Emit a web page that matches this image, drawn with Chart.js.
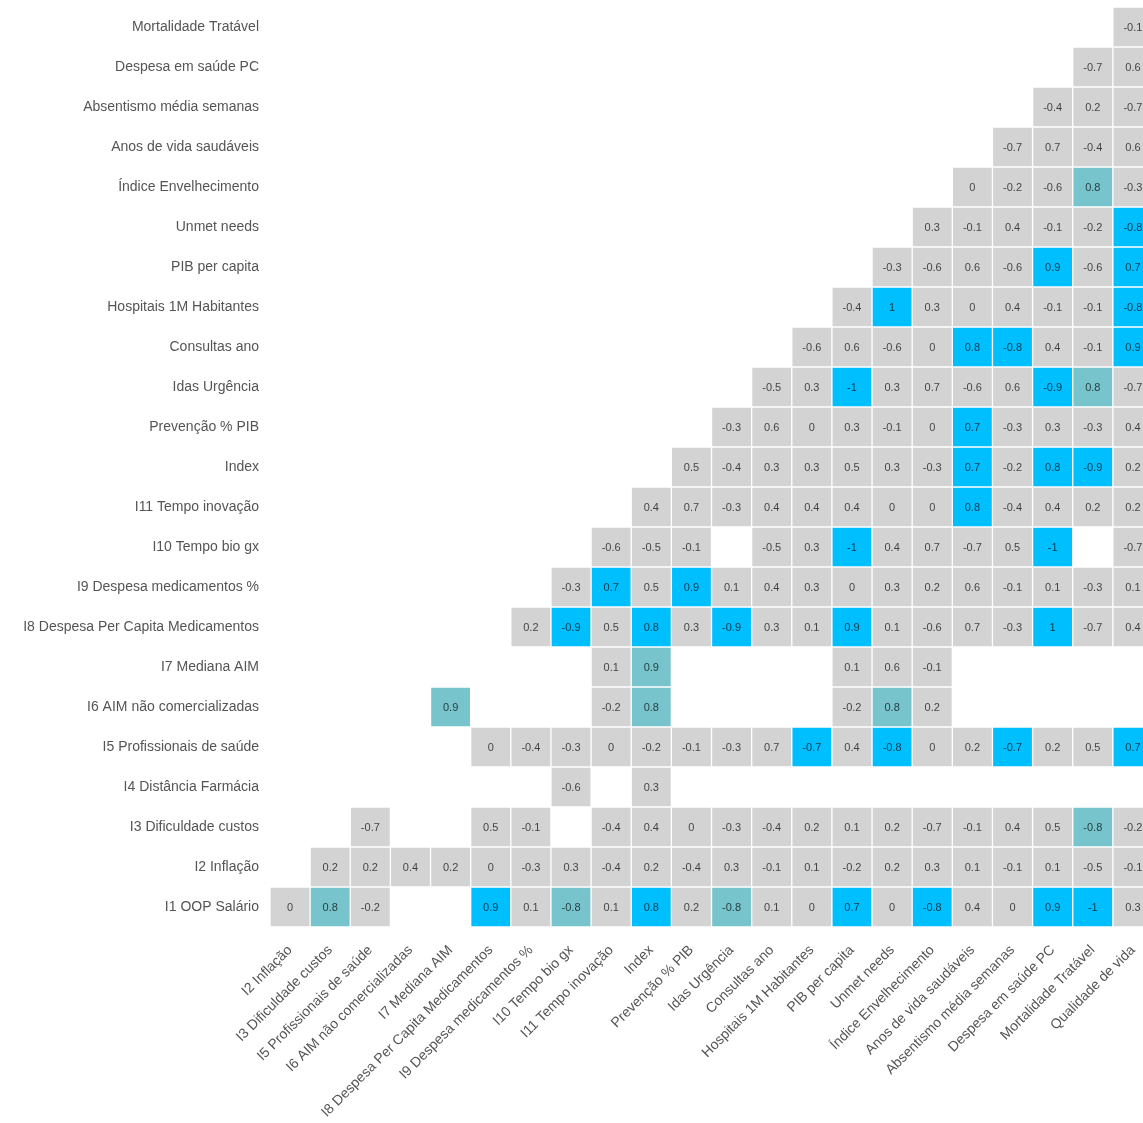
<!DOCTYPE html>
<html>
<head>
<meta charset="utf-8">
<script src="https://cdn.jsdelivr.net/npm/chart.js@4.4.1/dist/chart.umd.min.js"></script>
<style>
  html, body { margin: 0; padding: 0; background: #fff; overflow: hidden; }
  #wrap { width: 1153px; height: 1123px; }
</style>
</head>
<body>
<div id="wrap"><canvas id="corr"></canvas></div>
<script>
const _ = null;

// columns (left to right)
const colLabels = [
  'I2 Inflação', 'I3 Dificuldade custos', 'I5 Profissionais de saúde',
  'I6 AIM não comercializadas', 'I7 Mediana AIM', 'I8 Despesa Per Capita Medicamentos',
  'I9 Despesa medicamentos %', 'I10 Tempo bio gx', 'I11 Tempo inovação', 'Index',
  'Prevenção % PIB', 'Idas Urgência', 'Consultas ano', 'Hospitais 1M Habitantes',
  'PIB per capita', 'Unmet needs', 'Índice Envelhecimento', 'Anos de vida saudáveis',
  'Absentismo média semanas', 'Despesa em saúde PC', 'Mortalidade Tratável', 'Qualidade de vida'
];

// rows (top to bottom)
const rowLabels = [
  'Mortalidade Tratável', 'Despesa em saúde PC', 'Absentismo média semanas',
  'Anos de vida saudáveis', 'Índice Envelhecimento', 'Unmet needs', 'PIB per capita',
  'Hospitais 1M Habitantes', 'Consultas ano', 'Idas Urgência', 'Prevenção % PIB', 'Index',
  'I11 Tempo inovação', 'I10 Tempo bio gx', 'I9 Despesa medicamentos %',
  'I8 Despesa Per Capita Medicamentos', 'I7 Mediana AIM', 'I6 AIM não comercializadas',
  'I5 Profissionais de saúde', 'I4 Distância Farmácia', 'I3 Dificuldade custos',
  'I2 Inflação', 'I1 OOP Salário'
];

// correlation values, one row per rowLabels entry, one column per colLabels entry
const values = [
  [_,_,_,_,_,_,_,_,_,_,_,_,_,_,_,_,_,_,_,_,_,-0.1],
  [_,_,_,_,_,_,_,_,_,_,_,_,_,_,_,_,_,_,_,_,-0.7,0.6],
  [_,_,_,_,_,_,_,_,_,_,_,_,_,_,_,_,_,_,_,-0.4,0.2,-0.7],
  [_,_,_,_,_,_,_,_,_,_,_,_,_,_,_,_,_,_,-0.7,0.7,-0.4,0.6],
  [_,_,_,_,_,_,_,_,_,_,_,_,_,_,_,_,_,0,-0.2,-0.6,0.8,-0.3],
  [_,_,_,_,_,_,_,_,_,_,_,_,_,_,_,_,0.3,-0.1,0.4,-0.1,-0.2,-0.8],
  [_,_,_,_,_,_,_,_,_,_,_,_,_,_,_,-0.3,-0.6,0.6,-0.6,0.9,-0.6,0.7],
  [_,_,_,_,_,_,_,_,_,_,_,_,_,_,-0.4,1,0.3,0,0.4,-0.1,-0.1,-0.8],
  [_,_,_,_,_,_,_,_,_,_,_,_,_,-0.6,0.6,-0.6,0,0.8,-0.8,0.4,-0.1,0.9],
  [_,_,_,_,_,_,_,_,_,_,_,_,-0.5,0.3,-1,0.3,0.7,-0.6,0.6,-0.9,0.8,-0.7],
  [_,_,_,_,_,_,_,_,_,_,_,-0.3,0.6,0,0.3,-0.1,0,0.7,-0.3,0.3,-0.3,0.4],
  [_,_,_,_,_,_,_,_,_,_,0.5,-0.4,0.3,0.3,0.5,0.3,-0.3,0.7,-0.2,0.8,-0.9,0.2],
  [_,_,_,_,_,_,_,_,_,0.4,0.7,-0.3,0.4,0.4,0.4,0,0,0.8,-0.4,0.4,0.2,0.2],
  [_,_,_,_,_,_,_,_,-0.6,-0.5,-0.1,_,-0.5,0.3,-1,0.4,0.7,-0.7,0.5,-1,_,-0.7],
  [_,_,_,_,_,_,_,-0.3,0.7,0.5,0.9,0.1,0.4,0.3,0,0.3,0.2,0.6,-0.1,0.1,-0.3,0.1],
  [_,_,_,_,_,_,0.2,-0.9,0.5,0.8,0.3,-0.9,0.3,0.1,0.9,0.1,-0.6,0.7,-0.3,1,-0.7,0.4],
  [_,_,_,_,_,_,_,_,0.1,0.9,_,_,_,_,0.1,0.6,-0.1,_,_,_,_,_],
  [_,_,_,_,0.9,_,_,_,-0.2,0.8,_,_,_,_,-0.2,0.8,0.2,_,_,_,_,_],
  [_,_,_,_,_,0,-0.4,-0.3,0,-0.2,-0.1,-0.3,0.7,-0.7,0.4,-0.8,0,0.2,-0.7,0.2,0.5,0.7],
  [_,_,_,_,_,_,_,-0.6,_,0.3,_,_,_,_,_,_,_,_,_,_,_,_],
  [_,_,-0.7,_,_,0.5,-0.1,_,-0.4,0.4,0,-0.3,-0.4,0.2,0.1,0.2,-0.7,-0.1,0.4,0.5,-0.8,-0.2],
  [_,0.2,0.2,0.4,0.2,0,-0.3,0.3,-0.4,0.2,-0.4,0.3,-0.1,0.1,-0.2,0.2,0.3,0.1,-0.1,0.1,-0.5,-0.1],
  [0,0.8,-0.2,_,_,0.9,0.1,-0.8,0.1,0.8,0.2,-0.8,0.1,0,0.7,0,-0.8,0.4,0,0.9,-1,0.3]
];

// significance flags as [row, column]
const strongCells = [
  [5,21], [6,19], [6,21], [7,15], [7,21], [8,17], [8,18], [8,21], [9,14], [9,19],
  [10,17], [11,17], [11,19], [11,20], [12,17], [13,14], [13,19], [14,8], [14,10],
  [15,7], [15,9], [15,11], [15,14], [15,19], [18,13], [18,15], [18,18], [18,21],
  [22,5], [22,9], [22,14], [22,16], [22,19], [22,20]
];
const weakCells = [
  [4,20], [9,20], [16,9], [17,4], [17,9], [17,15], [20,20], [22,1], [22,7], [22,11]
];

const has = (list, r, c) => list.some(p => p[0] === r && p[1] === c);
function cellColor(r, c) {
  if (has(strongCells, r, c)) return '#00bfff';
  if (has(weakCells, r, c)) return '#78c4cc';
  return '#d3d3d3';
}

const labelFont = { family: '"Liberation Sans", Arial, sans-serif', size: 14 };

const datasets = rowLabels.map((name, r) => ({
  label: name,
  data: values[r].map(v => v === null ? null : [r - 0.5, r + 0.5]),
  backgroundColor: values[r].map((v, c) => cellColor(r, c)),
  borderColor: '#ffffff',
  borderWidth: 1,
  borderSkipped: false,
  grouped: false,
  barPercentage: 1,
  categoryPercentage: 1
}));

const cellText = {
  id: 'cellText',
  afterDatasetsDraw(chart) {
    const ctx = chart.ctx;
    ctx.save();
    ctx.font = '11px "Liberation Sans", Arial, sans-serif';
    ctx.fillStyle = 'rgba(0,0,0,0.7)';
    ctx.textAlign = 'center';
    ctx.textBaseline = 'middle';
    chart.data.datasets.forEach((ds, r) => {
      chart.getDatasetMeta(r).data.forEach((bar, c) => {
        const v = values[r][c];
        if (v === null) return;
        const p = bar.getCenterPoint();
        ctx.fillText(String(v), p.x, p.y + 1);
      });
    });
    ctx.restore();
  }
};

new Chart(document.getElementById('corr'), {
  type: 'bar',
  data: { labels: colLabels, datasets: datasets },
  plugins: [cellText],
  options: {
    responsive: true,
    maintainAspectRatio: false,
    animation: false,
    layout: { padding: { top: 7, right: 0, bottom: 0, left: 0 } },
    plugins: {
      legend: { display: false },
      tooltip: { enabled: false }
    },
    scales: {
      x: {
        type: 'category',
        offset: true,
        grid: { display: false, drawTicks: false },
        border: { display: false },
        ticks: {
          autoSkip: false,
          maxRotation: 45,
          minRotation: 45,
          padding: 15,
          color: '#555',
          font: labelFont
        },
        afterFit: s => { s.height = 196; s.paddingLeft = 0; s.paddingRight = 0; }
      },
      y: {
        type: 'linear',
        reverse: true,
        min: -0.5,
        max: rowLabels.length - 0.5,
        grid: { display: false, drawTicks: false },
        border: { display: false },
        afterBuildTicks: s => { s.ticks = rowLabels.map((n, i) => ({ value: i })); },
        ticks: {
          padding: 11,
          color: '#555',
          font: labelFont,
          callback: v => rowLabels[v]
        },
        afterFit: s => { s.width = 270; s.paddingTop = 0; s.paddingBottom = 0; }
      }
    }
  }
});
</script>
</body>
</html>
